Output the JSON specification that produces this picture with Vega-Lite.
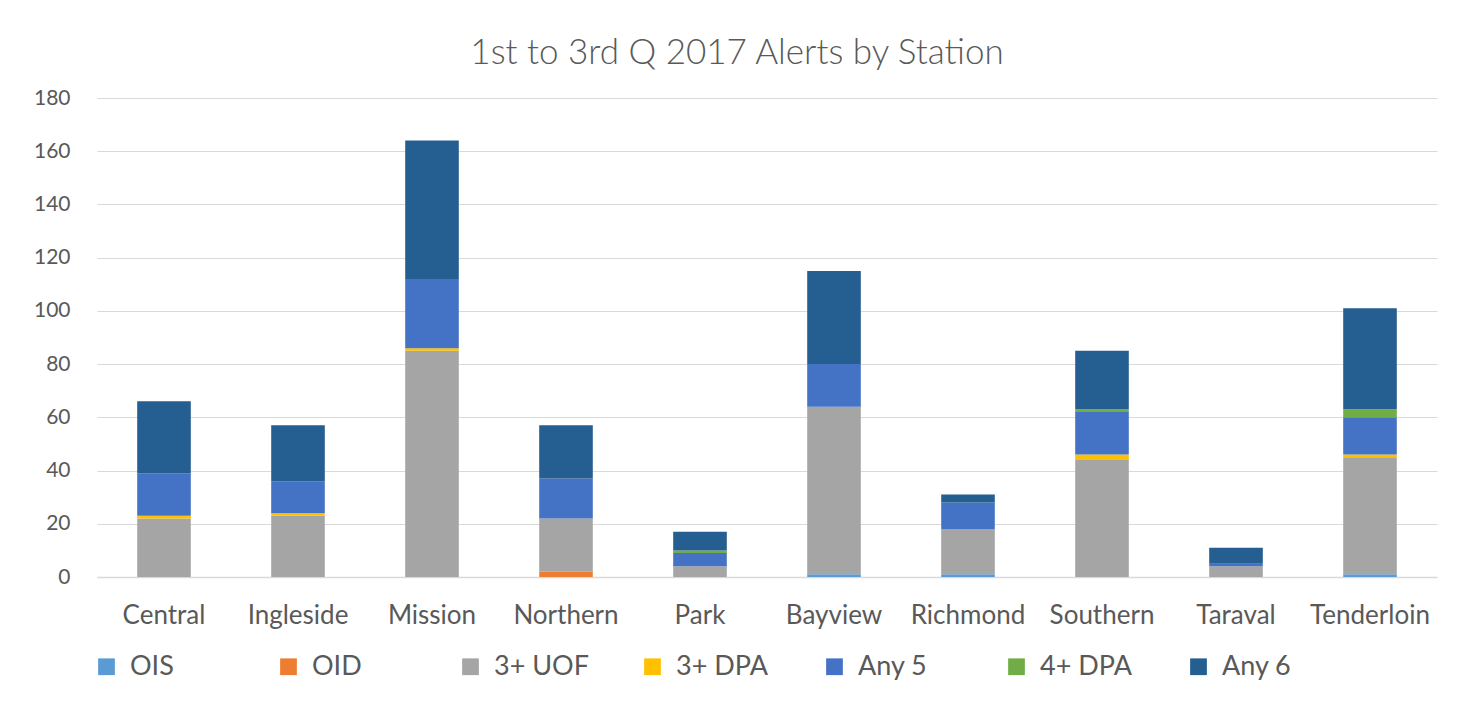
{
  "$schema": "https://vega.github.io/schema/vega-lite/v6.json",
  "autosize": "none",
  "padding": {"left": 97, "top": 98, "right": 35, "bottom": 125},
  "width": 1340,
  "height": 479,
  "background": "white",
  "title": {
    "text": "1st to 3rd Q 2017 Alerts by Station",
    "font": "Lato",
    "fontSize": 35,
    "fontWeight": 300,
    "color": "#595959",
    "anchor": "middle",
    "dx": -30,
    "offset": 16
  },
  "data": {
    "values": [
      {"station": "Central", "series": "3+ UOF", "o": 3, "value": 22},
      {"station": "Central", "series": "3+ DPA", "o": 4, "value": 1},
      {"station": "Central", "series": "Any 5", "o": 5, "value": 16},
      {"station": "Central", "series": "Any 6", "o": 7, "value": 27},
      {"station": "Ingleside", "series": "3+ UOF", "o": 3, "value": 23},
      {"station": "Ingleside", "series": "3+ DPA", "o": 4, "value": 1},
      {"station": "Ingleside", "series": "Any 5", "o": 5, "value": 12},
      {"station": "Ingleside", "series": "Any 6", "o": 7, "value": 21},
      {"station": "Mission", "series": "3+ UOF", "o": 3, "value": 85},
      {"station": "Mission", "series": "3+ DPA", "o": 4, "value": 1},
      {"station": "Mission", "series": "Any 5", "o": 5, "value": 26},
      {"station": "Mission", "series": "Any 6", "o": 7, "value": 52},
      {"station": "Northern", "series": "OID", "o": 2, "value": 2},
      {"station": "Northern", "series": "3+ UOF", "o": 3, "value": 20},
      {"station": "Northern", "series": "Any 5", "o": 5, "value": 15},
      {"station": "Northern", "series": "Any 6", "o": 7, "value": 20},
      {"station": "Park", "series": "3+ UOF", "o": 3, "value": 4},
      {"station": "Park", "series": "Any 5", "o": 5, "value": 5},
      {"station": "Park", "series": "4+ DPA", "o": 6, "value": 1},
      {"station": "Park", "series": "Any 6", "o": 7, "value": 7},
      {"station": "Bayview", "series": "OIS", "o": 1, "value": 1},
      {"station": "Bayview", "series": "3+ UOF", "o": 3, "value": 63},
      {"station": "Bayview", "series": "Any 5", "o": 5, "value": 16},
      {"station": "Bayview", "series": "Any 6", "o": 7, "value": 35},
      {"station": "Richmond", "series": "OIS", "o": 1, "value": 1},
      {"station": "Richmond", "series": "3+ UOF", "o": 3, "value": 17},
      {"station": "Richmond", "series": "Any 5", "o": 5, "value": 10},
      {"station": "Richmond", "series": "Any 6", "o": 7, "value": 3},
      {"station": "Southern", "series": "3+ UOF", "o": 3, "value": 44},
      {"station": "Southern", "series": "3+ DPA", "o": 4, "value": 2},
      {"station": "Southern", "series": "Any 5", "o": 5, "value": 16},
      {"station": "Southern", "series": "4+ DPA", "o": 6, "value": 1},
      {"station": "Southern", "series": "Any 6", "o": 7, "value": 22},
      {"station": "Taraval", "series": "3+ UOF", "o": 3, "value": 4},
      {"station": "Taraval", "series": "Any 5", "o": 5, "value": 1},
      {"station": "Taraval", "series": "Any 6", "o": 7, "value": 6},
      {"station": "Tenderloin", "series": "OIS", "o": 1, "value": 1},
      {"station": "Tenderloin", "series": "3+ UOF", "o": 3, "value": 44},
      {"station": "Tenderloin", "series": "3+ DPA", "o": 4, "value": 1},
      {"station": "Tenderloin", "series": "Any 5", "o": 5, "value": 14},
      {"station": "Tenderloin", "series": "4+ DPA", "o": 6, "value": 3},
      {"station": "Tenderloin", "series": "Any 6", "o": 7, "value": 38}
    ]
  },
  "mark": {"type": "bar"},
  "encoding": {
    "x": {
      "field": "station",
      "type": "nominal",
      "sort": ["Central", "Ingleside", "Mission", "Northern", "Park", "Bayview", "Richmond", "Southern", "Taraval", "Tenderloin"],
      "scale": {"paddingInner": 0.6, "paddingOuter": 0.3},
      "axis": {
        "title": null,
        "labelAngle": 0,
        "labelFont": "Lato",
        "labelFontSize": 26,
        "labelColor": "#595959",
        "labelPadding": 25,
        "ticks": false,
        "domainColor": "#d9d9d9",
        "domainWidth": 1.5
      }
    },
    "y": {
      "field": "value",
      "type": "quantitative",
      "aggregate": "sum",
      "stack": "zero",
      "scale": {"domain": [0, 180], "nice": false},
      "axis": {
        "title": null,
        "values": [0, 20, 40, 60, 80, 100, 120, 140, 160, 180],
        "labelFont": "Lato",
        "labelFontSize": 21,
        "labelColor": "#595959",
        "labelPadding": 27,
        "ticks": false,
        "domain": false,
        "gridColor": "#d9d9d9",
        "gridWidth": 1.2
      }
    },
    "color": {
      "field": "series",
      "type": "nominal",
      "scale": {
        "domain": ["OIS", "OID", "3+ UOF", "3+ DPA", "Any 5", "4+ DPA", "Any 6"],
        "range": ["#5b9bd5", "#ed7d31", "#a5a5a5", "#ffc000", "#4472c4", "#70ad47", "#255e91"]
      },
      "legend": {
        "title": null,
        "orient": "none",
        "direction": "horizontal",
        "columns": 7,
        "gridAlign": "all",
        "columnPadding": 50,
        "legendX": -4,
        "legendY": 555,
        "symbolType": "square",
        "symbolSize": 280,
        "symbolStrokeWidth": 0,
        "symbolOffset": 0,
        "labelFont": "Lato",
        "labelFontSize": 27,
        "labelColor": "#595959",
        "labelOffset": 10
      }
    },
    "order": {"field": "o", "type": "quantitative"}
  },
  "config": {
    "view": {"stroke": null}
  }
}
